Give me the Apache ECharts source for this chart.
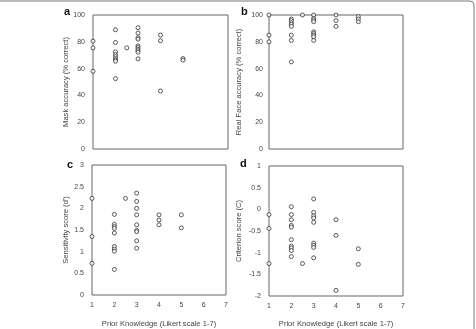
<!DOCTYPE html>
<html>
<head>
<meta charset="utf-8">
<script src="https://cdn.jsdelivr.net/npm/echarts@6/dist/echarts.min.js"></script>
<style>
  html, body { margin: 0; padding: 0; background: #fff; }
  #chart { width: 476px; height: 329px; }
</style>
</head>
<body>
<div id="chart"></div>
<script>
// prior knowledge (x) vs. score (y), one list per panel
const maskPoints = [
  [1, 80.5], [1, 75.5], [1, 58],
  [2, 89], [2, 79.5], [2, 72.5], [2, 70.5], [2, 69], [2, 67.5], [2, 66.5], [2, 65.5], [2, 52.5],
  [2.5, 75.5],
  [3, 90.5], [3, 86.5], [3, 83], [3, 82], [3, 77], [3, 75.8], [3, 74.5], [3, 73.3], [3, 72.2], [3, 67.3],
  [4, 85], [4, 80.8], [4, 43.3],
  [5, 67.5], [5, 66.3]
];
const faceRealPoints = [
  [1, 100], [1, 85], [1, 80],
  [2, 97], [2, 95.8], [2, 94.3], [2, 93], [2, 91.5], [2, 85], [2, 81], [2, 65],
  [2.5, 100],
  [3, 100], [3, 97.5], [3, 96.3], [3, 95], [3, 87.5], [3, 86.3], [3, 85], [3, 83.8], [3, 81],
  [4, 100], [4, 95.8], [4, 91.5],
  [5, 98.8], [5, 97], [5, 95]
];
const sensitivityPoints = [
  [1, 2.23], [1, 1.35], [1, 0.73],
  [2, 1.86], [2, 1.63], [2, 1.58], [2, 1.54], [2, 1.43], [2, 1.12], [2, 1.06], [2, 1.01], [2, 0.59],
  [2.5, 2.23],
  [3, 2.35], [3, 2.16], [3, 2.0], [3, 1.85], [3, 1.62], [3, 1.49], [3, 1.46], [3, 1.25], [3, 1.08],
  [4, 1.85], [4, 1.73], [4, 1.62],
  [5, 1.85], [5, 1.55]
];
const criterionPoints = [
  [1, -0.12], [1, -0.44], [1, -1.25],
  [2, 0.06], [2, -0.12], [2, -0.24], [2, -0.37], [2, -0.41], [2, -0.7], [2, -0.85], [2, -0.89], [2, -0.95], [2, -1.09],
  [2.5, -1.25],
  [3, 0.24], [3, -0.07], [3, -0.15], [3, -0.2], [3, -0.3], [3, -0.78], [3, -0.83], [3, -0.88], [3, -1.12],
  [4, -0.24], [4, -0.6], [4, -1.87],
  [5, -0.91], [5, -1.27]
];

const xTicks = [1, 2, 3, 4, 5, 6, 7];
const panelLetters = ['a', 'b', 'c', 'd'];
const yNames = ['Mask accuracy (% correct)', 'Real Face accuracy (% correct)', "Sensitivity score (d')", 'Criterion score (C)'];
const xName = 'Prior Knowledge (Likert scale 1-7)';

const FONT = 'Liberation Sans, Arial, sans-serif';
const TEXT = '#444';

const grids = [
  { left: 93, top: 15, width: 135, height: 134 },
  { left: 269, top: 15, width: 134, height: 134 },
  { left: 92, top: 165, width: 134, height: 132 },
  { left: 269, top: 166, width: 134, height: 132 }
];
const yRanges = [
  { min: 0, max: 100, interval: 20, gap: 21, margin: 8 },
  { min: 0, max: 100, interval: 20, gap: 26, margin: 6 },
  { min: 0, max: 3, interval: 0.5, gap: 22, margin: 8 },
  { min: -2, max: 1, interval: 0.5, gap: 26, margin: 8 }
];
const letterPos = [[64, 6], [241, 6], [67, 159], [240, 158]];
const allPoints = [maskPoints, faceRealPoints, sensitivityPoints, criterionPoints];

const option = {
  animation: false,
  grid: grids.map((g) => ({ ...g, show: true, borderColor: '#666', borderWidth: 1, containLabel: false })),
  xAxis: grids.map((g, i) => ({
    gridIndex: i,
    type: 'value',
    min: xTicks[0],
    max: xTicks[xTicks.length - 1],
    interval: 1,
    name: i >= 2 ? xName : '',
    nameLocation: 'middle',
    nameGap: i === 2 ? 25 : 24,
    nameTextStyle: { fontFamily: FONT, fontSize: 7.6, color: TEXT },
    axisLine: { show: false },
    axisTick: { show: false },
    splitLine: { show: false },
    axisLabel: { show: i >= 2, fontFamily: FONT, fontSize: 7, color: TEXT, margin: 7 }
  })),
  yAxis: yRanges.map((r, i) => ({
    gridIndex: i,
    type: 'value',
    min: r.min,
    max: r.max,
    interval: r.interval,
    name: yNames[i],
    nameLocation: 'middle',
    nameGap: r.gap,
    nameTextStyle: { fontFamily: FONT, fontSize: 7.6, color: TEXT },
    axisLine: { show: false },
    axisTick: { show: false },
    splitLine: { show: false },
    axisLabel: { fontFamily: FONT, fontSize: 7, color: TEXT, margin: r.margin }
  })),
  series: allPoints.map((pts, i) => ({
    type: 'scatter',
    xAxisIndex: i,
    yAxisIndex: i,
    data: pts,
    symbol: 'circle',
    symbolSize: 4,
    clip: false,
    itemStyle: { color: '#fff', borderColor: '#333', borderWidth: 1 }
  })),
  graphic: [
    {
      type: 'rect',
      shape: { x: -10, y: 1, width: 484, height: 340, r: 4 },
      style: { fill: 'none', stroke: '#777', lineWidth: 1 },
      silent: true
    },
    ...panelLetters.map((l, i) => ({
      type: 'text',
      left: letterPos[i][0],
      top: letterPos[i][1],
      style: { text: l, fontFamily: FONT, fontSize: 11, fontWeight: 'bold', fill: '#111' }
    }))
  ]
};

const chart = echarts.init(document.getElementById('chart'), null, { renderer: 'canvas' });
chart.setOption(option);
</script>
</body>
</html>
